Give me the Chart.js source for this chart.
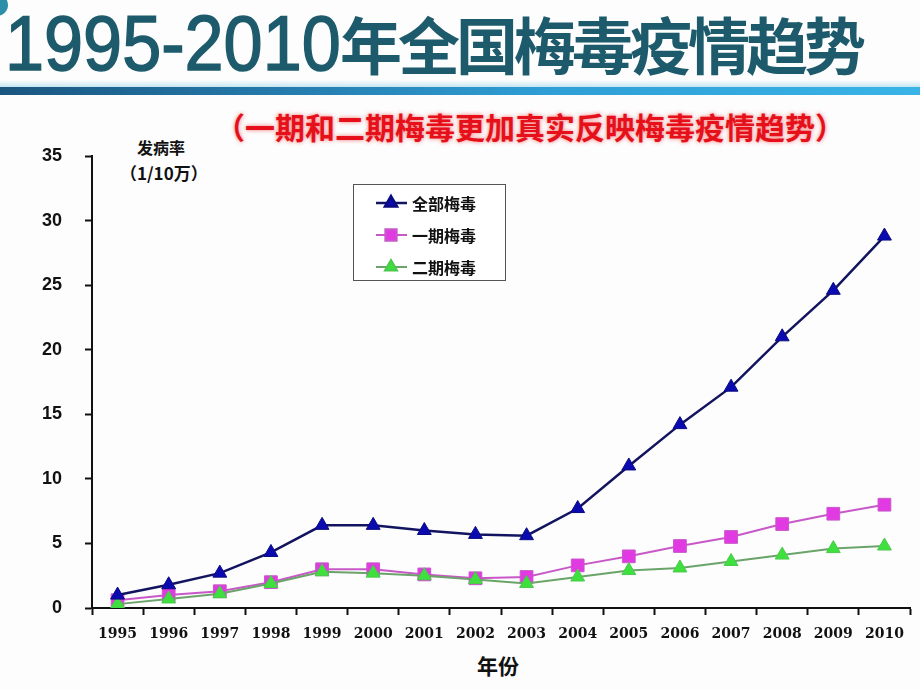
<!DOCTYPE html>
<html>
<head>
<meta charset="utf-8">
<script src="https://cdn.jsdelivr.net/npm/chart.js@4/dist/chart.umd.min.js"></script>
<style>
  body { margin: 0; width: 920px; height: 690px; background: #fdfdfd; overflow: hidden; position: relative; font-family: "Liberation Sans", "Noto Sans CJK SC", sans-serif; }
  #myChart { position: absolute; left: 0; top: 0; }
  .title { position: absolute; left: 5px; top: 4px; color: #1d5b6c; white-space: nowrap; line-height: 1; }
  .title .num { font-family: "Liberation Sans", sans-serif; font-size: 78px; display: inline-block; transform: scaleX(0.9); transform-origin: left; margin-right: -38px; -webkit-text-stroke: 1.5px #1d5b6c; }
  .title .cjk { font-family: "Noto Sans CJK SC", sans-serif; font-size: 62px; font-weight: bold; letter-spacing: -4px; }
  .bar { position: absolute; left: 0; top: 87px; width: 920px; height: 8px; background: linear-gradient(to right, #1a5680, #2f9fd6 60%, #39b4e6); }
  .bar-shadow { position: absolute; left: 0; top: 80px; width: 920px; height: 7px; background: linear-gradient(to bottom, rgba(160,215,235,0), rgba(160,215,235,0.6)); }
  .corner { position: absolute; left: -14px; top: -6px; width: 22px; height: 22px; border-radius: 50%; background: #2b8fa8; }
  .sub { position: absolute; left: 215px; top: 108px; font-family: "Noto Sans CJK SC", sans-serif; font-weight: bold; font-size: 30px; color: #e5101a; text-shadow: 0 0 4px rgba(240,60,60,0.7); white-space: nowrap; line-height: 1.2; }
  .ytitle { position: absolute; font-family: "Noto Sans CJK SC", sans-serif; font-weight: bold; color: #111; white-space: nowrap; }
  .xtitle { position: absolute; left: 477px; top: 650px; font-family: "Noto Sans CJK SC", sans-serif; font-weight: bold; font-size: 21px; color: #111; }
</style>
</head>
<body>
<div class="corner"></div>
<div class="title"><span class="num">1995-2010</span><span class="cjk">年全国梅毒疫情趋势</span></div>
<div class="bar-shadow"></div>
<div class="bar"></div>
<div class="sub">（一期和二期梅毒更加真实反映梅毒疫情趋势）</div>
<div class="ytitle" style="left:137px; top:135px; font-size:16px;">发病率</div>
<div class="ytitle" style="left:120px; top:160px; font-size:17px;">（1/10万）</div>
<div class="xtitle">年份</div>
<canvas id="myChart" width="920" height="690"></canvas>
<script>
// years on x axis
const years = ['1995', '1996', '1997', '1998', '1999', '2000', '2001', '2002',
               '2003', '2004', '2005', '2006', '2007', '2008', '2009', '2010'];
// incidence per 100,000
const total = [1.0, 1.8, 2.7, 4.3, 6.4, 6.4, 6.0, 5.7, 5.6, 7.7, 11.0, 14.2, 17.1, 21.0, 24.6, 28.8];
const primary = [0.6, 1.0, 1.3, 2.0, 3.0, 3.0, 2.6, 2.3, 2.4, 3.3, 4.0, 4.8, 5.5, 6.5, 7.3, 8.0];
const secondary = [0.3, 0.7, 1.1, 1.9, 2.8, 2.7, 2.5, 2.2, 1.9, 2.4, 2.9, 3.1, 3.6, 4.1, 4.6, 4.8];
const names = ['全部梅毒', '一期梅毒', '二期梅毒'];
const yTicks = [0, 5, 10, 15, 20, 25, 30, 35];

let canvasChart = document.getElementById('myChart').getContext('2d');

// legend box drawn by hand, the library legend can't sit in the middle like this
const boxLegend = {
    id: 'boxLegend',
    afterDraw(chart) {
        const ctx = chart.ctx;
        ctx.save();
        ctx.fillStyle = '#ffffff';
        ctx.fillRect(353, 184, 152, 96);
        ctx.strokeStyle = '#555';
        ctx.lineWidth = 1;
        ctx.strokeRect(353.5, 184.5, 152, 96);
        chart.data.datasets.forEach((ds, i) => {
            let y = 203 + i * 32;
            ctx.strokeStyle = ds.borderColor;
            ctx.lineWidth = ds.borderWidth;
            ctx.beginPath();
            ctx.moveTo(376, y);
            ctx.lineTo(407, y);
            ctx.stroke();
            ctx.fillStyle = ds.pointBackgroundColor;
            ctx.strokeStyle = ds.pointBorderColor;
            Chart.helpers.drawPoint(ctx, {
                pointStyle: ds.pointStyle,
                radius: ds.pointRadius - 1,
                borderWidth: 1,
                rotation: 0
            }, 391, y);
            ctx.fillStyle = '#111';
            ctx.font = 'bold 16px "Noto Sans CJK SC"';
            ctx.textBaseline = 'middle';
            ctx.fillText(ds.label, 412, y + 1);
        });
        ctx.restore();
    }
};

const data = {
    labels: years,
    datasets: [{
        label: names[0],
        data: total,
        borderColor: '#121460',
        borderWidth: 2.5,
        pointStyle: 'triangle',
        pointRadius: 8,
        pointBackgroundColor: '#0a0ab0',
        pointBorderColor: '#0a0a80',
        pointBorderWidth: 1,
        order: 1
    }, {
        label: names[1],
        data: primary,
        borderColor: '#c858c8',
        borderWidth: 2,
        pointStyle: 'rect',
        pointRadius: 9,
        pointBackgroundColor: '#e23ae2',
        pointBorderColor: '#c858c8',
        pointBorderWidth: 1,
        order: 3
    }, {
        label: names[2],
        data: secondary,
        borderColor: '#6aa46a',
        borderWidth: 2,
        pointStyle: 'triangle',
        pointRadius: 8,
        pointBackgroundColor: '#3ee03e',
        pointBorderColor: '#4cc84c',
        pointBorderWidth: 1,
        order: 2
    }]
};

const config = {
    type: 'line',
    data: data,
    options: {
        responsive: false,
        animation: false,
        devicePixelRatio: 1,
        layout: {
            padding: { left: 0, top: 156, right: 5, bottom: 0 }
        },
        plugins: {
            legend: { display: false },
            tooltip: { enabled: false }
        },
        scales: {
            x: {
                offset: true,
                afterFit: (scale) => { scale.height = 82; },
                grid: {
                    offset: true,
                    drawOnChartArea: false,
                    drawTicks: true,
                    tickLength: 7,
                    tickWidth: 2,
                    tickColor: '#111'
                },
                border: { display: true, color: '#111', width: 2 },
                ticks: {
                    color: '#111',
                    padding: 11,
                    maxRotation: 0,
                    autoSkip: false,
                    font: { family: '"DejaVu Serif"', weight: 'bold', size: 14 }
                }
            },
            y: {
                min: 0,
                max: 35,
                afterFit: (scale) => { scale.width = 92; },
                afterBuildTicks: (scale) => { scale.ticks = yTicks.map(v => ({ value: v })); },
                grid: {
                    drawOnChartArea: false,
                    drawTicks: true,
                    tickLength: 7,
                    tickWidth: 2,
                    tickColor: '#111'
                },
                border: { display: true, color: '#111', width: 2 },
                ticks: {
                    color: '#111',
                    padding: 23,
                    font: { family: '"Liberation Sans"', weight: 'bold', size: 18 }
                }
            }
        }
    },
    plugins: [boxLegend]
};

let myChart = new Chart(canvasChart, config);
</script>
</body>
</html>
